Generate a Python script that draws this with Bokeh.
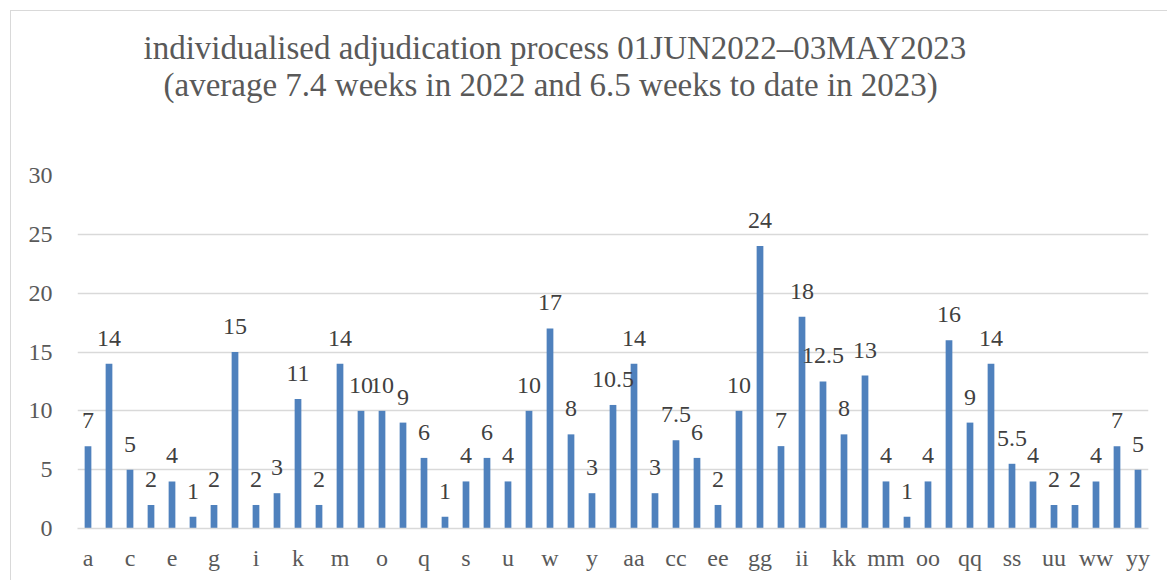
from bokeh.plotting import figure
from bokeh.models import ColumnDataSource, LabelSet, Title, Range1d, FixedTicker
from bokeh.embed import file_html
from bokeh.resources import INLINE

categories = ["a","b","c","d","e","f","g","h","i","j","k","l","m","n","o","p","q","r","s","t","u","v","w","x","y","z",
              "aa","bb","cc","dd","ee","ff","gg","hh","ii","jj","kk","ll","mm","nn","oo","pp","qq","rr","ss","tt","uu","vv","ww","xx","yy"]
weeks = [7, 14, 5, 2, 4, 1, 2, 15, 2, 3, 11, 2, 14, 10, 10, 9, 6, 1, 4, 6, 4, 10, 17, 8, 3, 10.5,
         14, 3, 7.5, 6, 2, 10, 24, 7, 18, 12.5, 8, 13, 4, 1, 4, 16, 9, 14, 5.5, 4, 2, 2, 4, 7, 5]
labels = [("%g" % v) for v in weeks]
y_ticks = [0, 5, 10, 15, 20, 25, 30]
title_lines = ["individualised adjudication process 01JUN2022\u201303MAY2023",
               "(average 7.4 weeks in 2022 and 6.5 weeks to date in 2023)"]

FONT = "Liberation Serif"
GREY = "#595959"

xpos = list(range(len(categories)))
src = ColumnDataSource(dict(x=xpos, v=weeks, lab=labels))

p = figure(width=1157, height=570, x_range=Range1d(-0.5, len(categories) - 0.5), y_range=Range1d(0, 30),
           output_backend="svg", toolbar_location=None, title=None,
           min_border_left=66, min_border_right=20, min_border_bottom=53, min_border_top=0)

p.vbar(x="x", top="v", width=0.32, source=src, fill_color="#4F81BD", line_color=None)

p.add_layout(LabelSet(x="x", y="v", text="lab", source=src, text_align="center", text_baseline="bottom",
                      y_offset=18, text_font=FONT, text_font_size="24px", text_color="#404040"))

spacer = Title(text=" ", text_font_size="10px", standoff=60)
t2 = Title(text=title_lines[1], align="left", offset=86, text_font=FONT, text_font_size="33px",
           text_font_style="normal", text_color=GREY, standoff=0)
t1 = Title(text=title_lines[0], align="left", offset=66, text_font=FONT, text_font_size="33px",
           text_font_style="normal", text_color=GREY, standoff=-3)
top_spacer = Title(text=" ", text_font_size="10px", standoff=5)
p.add_layout(spacer, "above")
p.add_layout(t2, "above")
p.add_layout(t1, "above")
p.add_layout(top_spacer, "above")

p.outline_line_color = None
p.xgrid.grid_line_color = None
p.ygrid.grid_line_color = "#d9d9d9"
p.ygrid.grid_line_width = 1.5
p.yaxis.ticker = FixedTicker(ticks=y_ticks)
p.xaxis.ticker = FixedTicker(ticks=xpos[::2])
p.xaxis.major_label_overrides = {i: c for i, c in enumerate(categories)}

for ax in (p.xaxis, p.yaxis):
    ax.major_tick_line_color = None
    ax.minor_tick_line_color = None
    ax.major_tick_out = 0
    ax.major_tick_in = 0
    ax.minor_tick_out = 0
    ax.major_label_text_font = FONT
    ax.major_label_text_font_size = "24px"
    ax.major_label_text_color = GREY
p.yaxis.axis_line_color = None
p.yaxis.major_label_standoff = 25
p.xaxis.axis_line_color = "#d9d9d9"
p.xaxis.axis_line_width = 1.5
p.xaxis.major_label_standoff = 16

p.styles = {"margin-left": "10px", "margin-top": "10px",
            "border-top": "1px solid #d9d9d9", "border-left": "1px solid #d9d9d9"}

open("out.html", "w").write(file_html(p, INLINE))
